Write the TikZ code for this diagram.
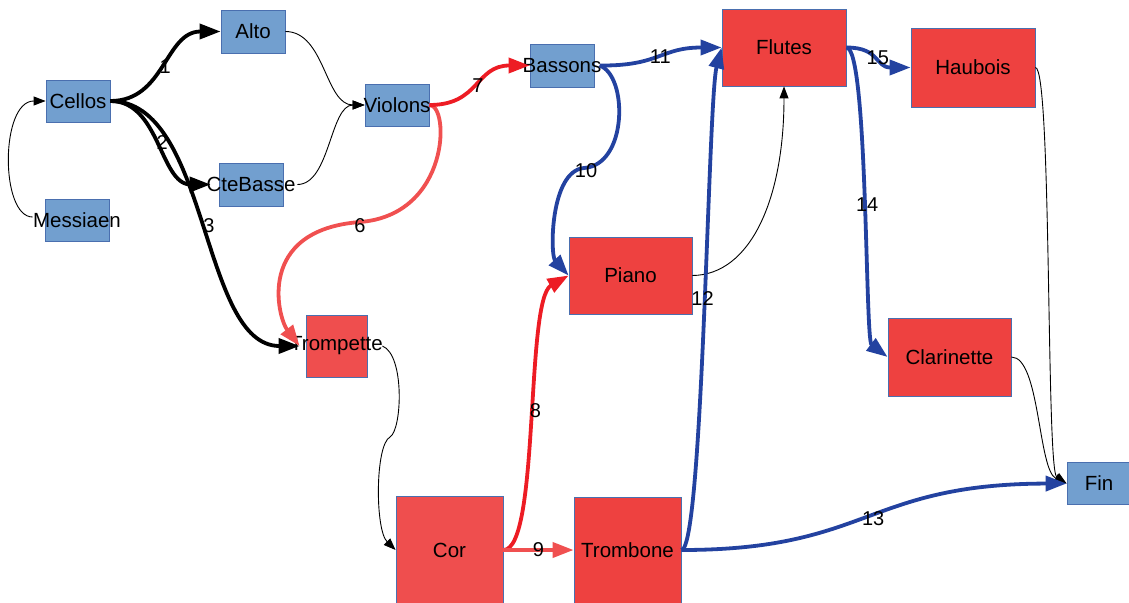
\documentclass[tikz,border=0pt]{standalone}
\usepackage{fontspec}
\setmainfont{Liberation Sans}
\usetikzlibrary{arrows.meta}
\definecolor{nblue}{HTML}{729FCF}
\definecolor{nborder}{HTML}{4A6FAF}
\definecolor{nred}{HTML}{EE4140}
\definecolor{nredlight}{HTML}{EF4E4E}
\definecolor{ered}{HTML}{ED1C24}
\definecolor{eredlight}{HTML}{F05050}
\definecolor{eblue}{HTML}{2342A0}
\begin{document}
\begin{tikzpicture}[x=1pt,y=-1pt,
  box/.style={draw=nborder, line width=0.8pt, inner sep=0pt, font=\fontsize{20.5}{24}\selectfont},
  bbox/.style={box, fill=nblue},
  rbox/.style={box, fill=nred},
  rlbox/.style={box, fill=nredlight},
  heavy/.style={line width=3.8pt, -{Triangle[length=21pt,width=15pt]}},
  light/.style={line width=0.9pt, black, -{Triangle[length=12pt,width=9pt]}},
  lab/.style={font=\fontsize{20}{24}\selectfont, inner sep=0pt, text=black}
]
\useasboundingbox (0,0) rectangle (1129,602);
% nodes
\node[bbox, minimum width=64pt, minimum height=42pt] (cel) at (78,101) {\makebox[0pt]{Cellos}};
\node[bbox, minimum width=64pt, minimum height=43pt] (alto) at (253,31.5) {\makebox[0pt]{Alto}};
\node[bbox, minimum width=64pt, minimum height=42pt] (mes) at (77,220) {\makebox[0pt]{Messiaen}};
\node[bbox, minimum width=64pt, minimum height=43pt] (cb) at (251,184.5) {\makebox[0pt]{CteBasse}};
\node[bbox, minimum width=64pt, minimum height=42pt] (vio) at (397,105) {\makebox[0pt]{Violons}};
\node[bbox, minimum width=64pt, minimum height=43pt] (bas) at (562,65.5) {\makebox[0pt]{Bassons}};
\node[rbox, minimum width=124pt, minimum height=77pt] (fl) at (784,47.5) {\makebox[0pt]{Flutes}};
\node[rbox, minimum width=124pt, minimum height=79pt] (hb) at (973,67.5) {\makebox[0pt]{Haubois}};
\node[rbox, minimum width=123pt, minimum height=77pt] (pi) at (630.5,275.5) {\makebox[0pt]{Piano}};
\node[rlbox, minimum width=61pt, minimum height=62pt] (tr) at (336.5,346) {\makebox[0pt]{Trompette}};
\node[rbox, minimum width=123pt, minimum height=78pt] (cl) at (949.5,357) {\makebox[0pt]{Clarinette}};
\node[rlbox, minimum width=107pt, minimum height=108pt] (cor) at (449.5,550) {\makebox[0pt]{Cor}};
\node[rbox, minimum width=107pt, minimum height=106pt] (trb) at (627.5,550) {\makebox[0pt]{Trombone}};
\node[bbox, minimum width=64pt, minimum height=42pt] (fin) at (1099,483.5) {\makebox[0pt]{Fin}};
% thin connectors
\draw[light] ([xshift=-12pt,yshift=3pt]mes.west) .. controls (0,217) and (0,101) .. (cel.west);
\draw[light] (alto.east) .. controls (325,31.5) and (325,105) .. (vio.west);
\draw[light] ([xshift=14pt]cb.east) .. controls (330,184.5) and (330,105) .. (vio.west);
\draw[light] (pi.east) .. controls (750,275) and (784,200) .. (fl.south);
\draw[light] ([xshift=15pt]tr.east) .. controls (405,355) and (402,430) .. (390,437) .. controls (375,445) and (375,530) .. (cor.west);
\draw[light] (hb.east) .. controls (1052,68) and (1046,470) .. (fin.west);
\draw[light] (cl.east) .. controls (1040,357) and (1038,470) .. (fin.west);
% black heavy connectors
\draw[heavy, black] (cel.east) .. controls (165,101) and (165,31.5) .. (alto.west) node[lab, pos=0.5] {1};
\draw[heavy, black] (cel.east) .. controls (160,101) and (160,184.5) .. ([xshift=-8pt]cb.west) node[lab, pos=0.5, xshift=2pt] {2};
\draw[heavy, black] (cel.east) .. controls (210,101) and (200,346) .. ([xshift=-6pt]tr.west) node[lab, pos=0.5, xshift=4pt, yshift=-2pt] {3};
% red connectors
\draw[heavy, eredlight] (vio.east) .. controls (450,105) and (450,215) .. (360,222) node[lab, yshift=-4pt] {6} .. controls (255,230) and (278,318) .. ([xshift=-6pt]tr.west);
\draw[heavy, ered] (vio.east) .. controls (480,105) and (475,65.5) .. (bas.west) node[lab, pos=0.5] {7};
\draw[heavy, ered] (cor.east) .. controls (540,550) and (525,300) .. (pi.west) node[lab, pos=0.53, xshift=1pt] {8};
\draw[heavy, eredlight] (cor.east) -- (trb.west) node[lab, midway] {9};
% blue connectors
\draw[heavy, eblue] ([xshift=5pt]bas.east) .. controls (628,75) and (628,165) .. (584,168) node[lab, xshift=2pt, yshift=-3pt] {10} .. controls (550,171) and (550,255) .. (pi.west);
\draw[heavy, eblue] ([xshift=6pt]bas.east) .. controls (660,66) and (660,47.5) .. (fl.west) node[lab, pos=0.5] {11};
\draw[heavy, eblue] (trb.east) .. controls (703,550) and (708,100) .. (fl.west) node[lab, pos=0.53, xshift=-3pt, yshift=-2pt] {12};
\draw[heavy, eblue] (trb.east) .. controls (870,550) and (865,484) .. (fin.west) node[lab, pos=0.5, xshift=4pt, yshift=-2pt] {13};
\draw[heavy, eblue] (fl.east) .. controls (868,47.5) and (865,340) .. (cl.west) node[lab, pos=0.52] {14};
\draw[heavy, eblue] (fl.east) .. controls (880,47.5) and (875,67.5) .. (hb.west) node[lab, pos=0.5] {15};
\end{tikzpicture}
\end{document}
